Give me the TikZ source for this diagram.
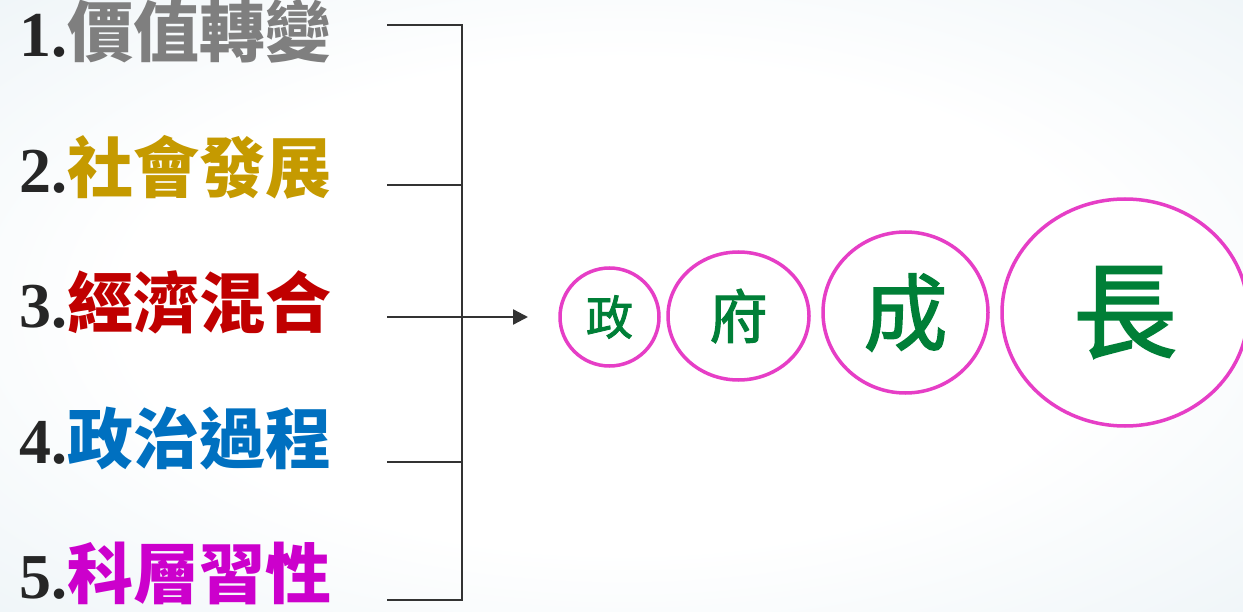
\documentclass[tikz,border=0pt]{standalone}
\usepackage{fontspec}
\setmainfont{Liberation Serif}
\newfontfamily\cjk{Noto Sans CJK TC}
\newfontfamily\cjkm[FakeBold=1.8]{Noto Sans CJK TC}
\usetikzlibrary{shapes.geometric,arrows.meta}
\definecolor{bgblue}{HTML}{D8E7EE}
\definecolor{numdark}{HTML}{262626}
\definecolor{cA}{HTML}{7F7F7F}
\definecolor{cB}{HTML}{C59A00}
\definecolor{cC}{HTML}{C00000}
\definecolor{cD}{HTML}{0070C0}
\definecolor{cE}{HTML}{CC00CC}
\definecolor{ringpink}{HTML}{E63EC6}
\definecolor{txtgreen}{HTML}{007F37}
\definecolor{linegray}{HTML}{333333}
\pgfdeclareradialshading{bgshade}{\pgfpoint{0bp}{0bp}}{color(0bp)=(white); color(20bp)=(white); color(60bp)=(bgblue); color(80bp)=(bgblue)}
\begin{document}
\begin{tikzpicture}[x=1pt,y=-1pt,
  lbl/.style={anchor=base west, inner sep=0pt, text=numdark, font=\fontsize{64}{64}\selectfont\bfseries},
  ring/.style={ellipse, draw=ringpink, line width=3.5pt, fill=white, inner sep=0pt, text=txtgreen},
  conn/.style={draw=linegray, line width=2.4pt}
]
\useasboundingbox (0,0) rectangle (1243,612);
\shade[shading=bgshade] (0,0) rectangle (1243,612);

\node[lbl] (t1) at (19,57) {1.\textcolor{cA}{\cjk\bfseries\fontsize{66}{66}\selectfont 價值轉變}};
\node[lbl] (t2) at (19,193) {2.\textcolor{cB}{\cjk\bfseries\fontsize{66}{66}\selectfont 社會發展}};
\node[lbl] (t3) at (19,328) {3.\textcolor{cC}{\cjk\bfseries\fontsize{66}{66}\selectfont 經濟混合}};
\node[lbl] (t4) at (19,463) {4.\textcolor{cD}{\cjk\bfseries\fontsize{66}{66}\selectfont 政治過程}};
\node[lbl] (t5) at (19,598) {5.\textcolor{cE}{\cjk\bfseries\fontsize{66}{66}\selectfont 科層習性}};

\coordinate (c1) at (387,25);
\coordinate (c2) at (387,185);
\coordinate (c3) at (387,317);
\coordinate (c4) at (387,462);
\coordinate (c5) at (387,600);
\coordinate (j) at (462,317);
\coordinate (tip) at (528,317);

\node[ring, minimum width=99pt, minimum height=98pt, font=\cjkm\fontsize{47}{47}\selectfont] (e1) at (609.5,317) {政};
\node[ring, minimum width=141pt, minimum height=128pt, font=\cjkm\fontsize{58}{58}\selectfont] (e2) at (738.5,316) {府};
\node[ring, minimum width=165pt, minimum height=161pt, font=\cjkm\fontsize{84}{84}\selectfont] (e3) at (905.5,312.5) {成};
\node[ring, minimum width=246pt, minimum height=227pt, font=\cjkm\fontsize{104}{104}\selectfont] (e4) at (1125,312.5) {長};

\draw[conn] (c1) -| (j);
\draw[conn] (c5) -| (j);
\draw[conn] (c2) -- (c2 -| j);
\draw[conn] (c4) -- (c4 -| j);
\draw[conn, -{Triangle[length=15pt,width=15pt]}] (c3) -- (tip);
\end{tikzpicture}
\end{document}
